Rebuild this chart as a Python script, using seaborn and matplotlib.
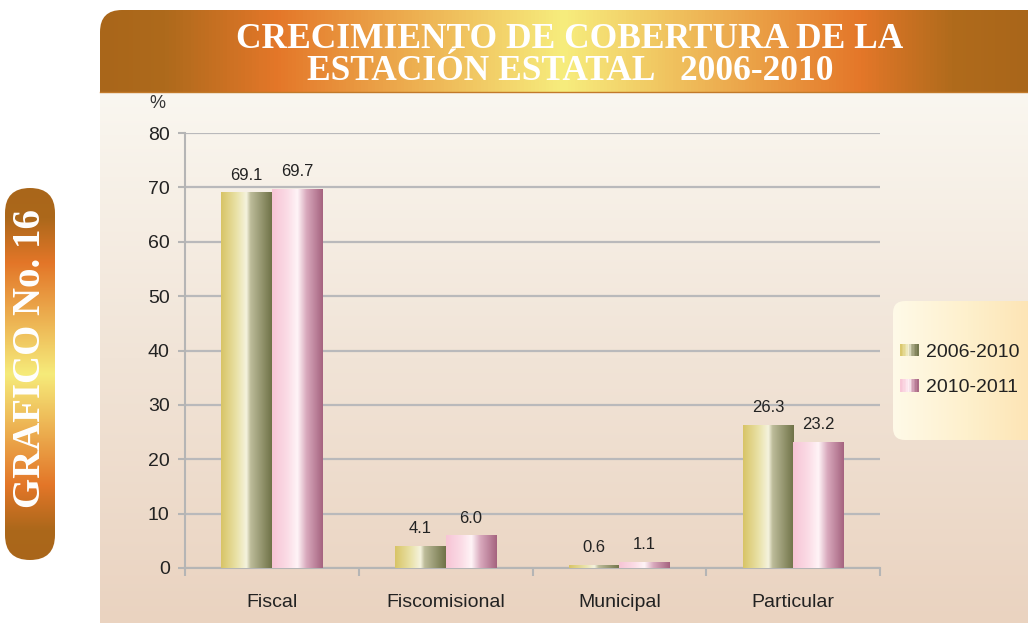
import numpy as np
import pandas as pd
import matplotlib
matplotlib.use("Agg")
import matplotlib.pyplot as plt
import seaborn as sns
from matplotlib.colors import LinearSegmentedColormap
from matplotlib.patches import FancyBboxPatch, Rectangle
from matplotlib.legend_handler import HandlerBase

# --- data ---
categories = ["Fiscal", "Fiscomisional", "Municipal", "Particular"]
series_names = ["2006-2010", "2010-2011"]
values_2006_2010 = [69.1, 4.1, 0.6, 26.3]
values_2010_2011 = [69.7, 6.0, 1.1, 23.2]
y_ticks = [0, 10, 20, 30, 40, 50, 60, 70, 80]

df = pd.DataFrame({
    "categoria": categories * 2,
    "serie": [series_names[0]] * 4 + [series_names[1]] * 4,
    "valor": values_2006_2010 + values_2010_2011,
})

# gradients used for the bars (left -> right)
cmap_olive = LinearSegmentedColormap.from_list(
    "olive", [(0, "#D8C466"), (0.3, "#E9E1A6"), (0.5, "#F5F3DE"),
              (0.58, "#BDBC9A"), (1, "#6F7247")])
cmap_pink = LinearSegmentedColormap.from_list(
    "pink", [(0, "#F7C4D5"), (0.3, "#FBDCE6"), (0.5, "#FFF4F7"),
             (0.68, "#D8A8BC"), (1, "#A5637F")])
cmaps = [cmap_olive, cmap_pink]

W, H = 1028, 623
fig = plt.figure(figsize=(W / 100, H / 100), dpi=100)
fig.patch.set_facecolor("white")

# --- decoration layer in pixel coordinates ---
bg = fig.add_axes([0, 0, 1, 1], zorder=0)
bg.set_xlim(0, W)
bg.set_ylim(H, 0)
bg.axis("off")

frame = FancyBboxPatch((100, 10), 1000, 700, boxstyle="round,pad=0,rounding_size=22",
                       facecolor="none", edgecolor="none")
bg.add_patch(frame)

banner_cmap = LinearSegmentedColormap.from_list(
    "banner", [(0, "#A9661A"), (0.07, "#AE6A1C"), (0.19, "#E47729"),
               (0.5, "#F7ED7D"), (0.82, "#E47729"), (0.92, "#B06B1C"), (1, "#A9661A")])
grad_h = np.linspace(0, 1, 256).reshape(1, -1)
im = bg.imshow(grad_h, extent=[100, 1028, 92, 10], cmap=banner_cmap, aspect="auto")
im.set_clip_path(frame)

panel_cmap = LinearSegmentedColormap.from_list("panel", ["#FAF7F0", "#F1E4D7", "#EAD3C0"])
grad_v = np.linspace(0, 1, 256).reshape(-1, 1)
im = bg.imshow(grad_v, extent=[100, 1028, 623, 92], origin="lower",
               cmap=panel_cmap.reversed(), aspect="auto")
im.set_clip_path(frame)
bg.plot([100, 1028], [92, 92], color="#C27A2A", lw=1)

# side pill
pill = FancyBboxPatch((5, 188), 50, 372, boxstyle="round,pad=0,rounding_size=25",
                      facecolor="none", edgecolor="none")
bg.add_patch(pill)
pill_cmap = LinearSegmentedColormap.from_list(
    "pill", [(0, "#A9661A"), (0.08, "#AC681B"), (0.2, "#E37628"),
             (0.5, "#F6EB7A"), (0.8, "#E37628"), (0.92, "#AC681B"), (1, "#A9661A")])
im = bg.imshow(grad_v, extent=[5, 55, 560, 188], origin="upper", cmap=pill_cmap, aspect="auto")
im.set_clip_path(pill)
bg.text(31, 358, "GRAFICO No. 16", rotation=90, ha="center", va="center",
        color="white", fontsize=28, fontweight="bold", family="Liberation Serif")

# legend box
leg_box = FancyBboxPatch((893, 301), 150, 139, boxstyle="round,pad=0,rounding_size=12",
                         facecolor="none", edgecolor="none")
bg.add_patch(leg_box)
leg_cmap = LinearSegmentedColormap.from_list("leg", ["#FFFAE8", "#FEF0CC", "#FDE2B0"])
im = bg.imshow(grad_h, extent=[893, 1043, 440, 301], cmap=leg_cmap, aspect="auto")
im.set_clip_path(leg_box)

# title
bg.text(570, 39, "CRECIMIENTO DE COBERTURA DE LA", ha="center", va="center",
        color="white", fontsize=25.5, fontweight="bold", family="Liberation Serif")
bg.text(570, 72, "ESTACIÓN ESTATAL   2006-2010", ha="center", va="center",
        color="white", fontsize=25.5, fontweight="bold", family="Liberation Serif")

# --- chart ---
ax = fig.add_axes([185 / W, 1 - 568 / H, (880 - 185) / W, (568 - 133) / H], zorder=1)
ax.set_facecolor("none")
sns.barplot(data=df, x="categoria", y="valor", hue="serie", hue_order=series_names,
            order=categories, width=0.58, gap=0, legend=False, ax=ax,
            edgecolor="none", zorder=3)

for cont, cmap in zip(ax.containers, cmaps):
    for bar in cont:
        x0, w, h = bar.get_x(), bar.get_width(), bar.get_height()
        bar.set_facecolor("none")
        gi = ax.imshow(grad_h, extent=[x0, x0 + w, 0, h], cmap=cmap,
                       aspect="auto", zorder=3)
        gi.set_clip_path(bar)
    ax.bar_label(cont, fmt="%.1f", padding=7, fontsize=12, color="#222222",
                 family="Liberation Sans")

ax.set_xlim(-0.5, 3.5)
ax.set_ylim(0, 80)
ax.set_yticks(y_ticks)
ax.set_xticks(range(len(categories)))
ax.set_xticks([-0.5, 0.5, 1.5, 2.5, 3.5], minor=True)
ax.tick_params(axis="x", which="major", length=0, pad=19, labelsize=14, labelcolor="#222222")
ax.tick_params(axis="x", which="minor", length=6, width=1.5, color="#B5B5B5")
ax.tick_params(axis="y", length=5, width=1.5, color="#B5B5B5", pad=6,
               labelsize=14, labelcolor="#222222")
for lab in ax.get_xticklabels() + ax.get_yticklabels():
    lab.set_family("Liberation Sans")
ax.grid(axis="y", color="#B9B9BB", lw=1.6, zorder=0)
ax.set_axisbelow(True)
ax.set_xlabel("")
ax.set_ylabel("")
for side in ["top", "right"]:
    ax.spines[side].set_visible(False)
for side in ["left", "bottom"]:
    ax.spines[side].set_color("#B5B5B5")
    ax.spines[side].set_linewidth(1.5)

fig.text(157 / W, 1 - 104 / H, "%", ha="center", va="center", fontsize=13,
         color="#333333", family="Liberation Sans")


class GradientHandler(HandlerBase):
    def __init__(self, cmap):
        super().__init__()
        self.cmap = cmap

    def create_artists(self, legend, orig_handle, xdescent, ydescent,
                       width, height, fontsize, trans):
        n = 12
        arts = []
        for i in range(n):
            r = Rectangle((-xdescent + width * i / n, -ydescent), width / n + 0.3, height,
                          facecolor=self.cmap((i + 0.5) / n), edgecolor="none",
                          transform=trans)
            arts.append(r)
        return arts


handles = [Rectangle((0, 0), 1, 1) for _ in series_names]
leg = fig.legend(handles, series_names, loc="center left",
                 bbox_to_anchor=(900 / W, 1 - 370 / H), borderpad=0, borderaxespad=0,
                 handler_map={h: GradientHandler(c) for h, c in zip(handles, cmaps)},
                 frameon=False, handlelength=0.93, handleheight=0.62,
                 handletextpad=0.42, labelspacing=0.95,
                 prop={"family": "Liberation Sans", "size": 14})
for t in leg.get_texts():
    t.set_color("#222222")

fig.savefig("out.png", dpi=100)
